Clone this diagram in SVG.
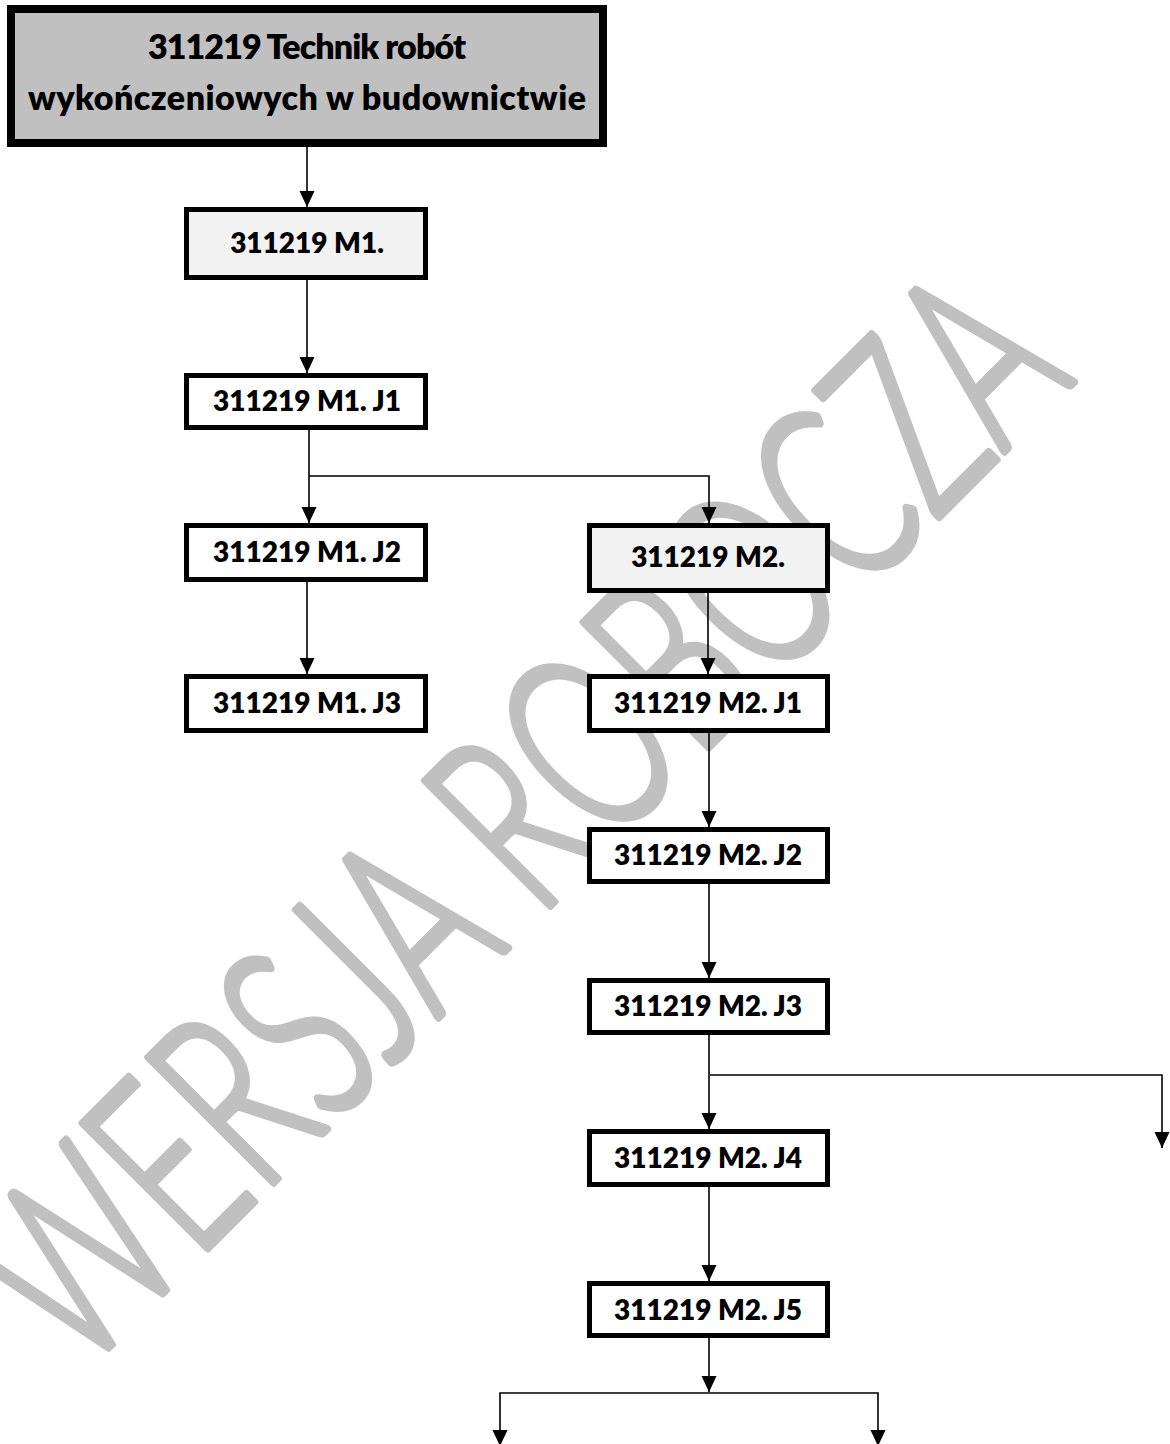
<svg xmlns="http://www.w3.org/2000/svg" width="1170" height="1444" viewBox="0 0 1170 1444">
<style>
.box{fill:#ffffff;stroke:#000000;stroke-width:5}
.mod{fill:#f2f2f2;stroke:#000000;stroke-width:5}
.lbl{font-family:Lato,"Open Sans","Liberation Sans",sans-serif;font-weight:800;font-size:28px;fill:#000000;text-anchor:middle}
.ttl{font-family:Lato,"Open Sans","Liberation Sans",sans-serif;font-weight:800;font-size:34px;fill:#000000;text-anchor:middle}
.conn{fill:none;stroke:#000000;stroke-width:1.6}
.wm{font-family:Lato,"Noto Sans","Open Sans",sans-serif;font-weight:300;font-size:250px;fill:#c0c0c0;stroke:#c0c0c0;stroke-width:8;stroke-linejoin:round;text-anchor:middle}
</style>
<defs>
<marker id="ah" markerUnits="userSpaceOnUse" markerWidth="16" markerHeight="16" refX="16" refY="7.5" orient="auto">
<path d="M0,0 L16,7.5 L0,15 z" fill="#000000"/>
</marker>
</defs>
<rect width="1170" height="1444" fill="#ffffff"/>
<g id="watermark">
<text class="wm" transform="translate(578,878) rotate(-45)" x="0" y="0" textLength="1410" lengthAdjust="spacingAndGlyphs">WERSJA ROBOCZA</text>
</g>
<g id="connectors">
<line class="conn" x1="307" y1="147" x2="307" y2="207" marker-end="url(#ah)"/>
<line class="conn" x1="307" y1="280" x2="307" y2="373" marker-end="url(#ah)"/>
<line class="conn" x1="309" y1="430" x2="309" y2="523" marker-end="url(#ah)"/>
<polyline class="conn" points="309,476 709,476 709,523" marker-end="url(#ah)"/>
<line class="conn" x1="307" y1="582" x2="307" y2="674" marker-end="url(#ah)"/>
<line class="conn" x1="708" y1="593" x2="708" y2="674" marker-end="url(#ah)"/>
<line class="conn" x1="709" y1="733" x2="709" y2="827" marker-end="url(#ah)"/>
<line class="conn" x1="709" y1="884" x2="709" y2="978" marker-end="url(#ah)"/>
<line class="conn" x1="709" y1="1035" x2="709" y2="1129" marker-end="url(#ah)"/>
<polyline class="conn" points="710,1075 1162,1075 1162,1148" marker-end="url(#ah)"/>
<line class="conn" x1="709" y1="1187" x2="709" y2="1281" marker-end="url(#ah)"/>
<line class="conn" x1="709" y1="1338" x2="709" y2="1392" marker-end="url(#ah)"/>
<polyline class="conn" points="500,1444 500,1393 878,1393 878,1444"/>
<path d="M492.5,1430 L507.5,1430 L500,1446 z" fill="#000000"/>
<path d="M870.5,1430 L885.5,1430 L878,1446 z" fill="#000000"/>
</g>
<g id="n0">
<rect x="11" y="9" width="592" height="134" fill="#c0c0c0" stroke="#000000" stroke-width="8"/>
<text class="ttl" x="307" y="59" textLength="318" lengthAdjust="spacing">311219 Technik robót</text>
<text class="ttl" x="307" y="110" textLength="558" lengthAdjust="spacing">wykończeniowych w budownictwie</text>
</g>
<g id="m1">
<rect class="mod" x="186.5" y="209.5" width="239" height="68"/>
<text class="lbl" x="307" y="253">311219 M1.</text>
</g>
<g id="m1j1">
<rect class="box" x="186.5" y="375.5" width="239" height="52"/>
<text class="lbl" x="307" y="411">311219 M1. J1</text>
</g>
<g id="m1j2">
<rect class="box" x="186.5" y="525.5" width="239" height="54"/>
<text class="lbl" x="307" y="562">311219 M1. J2</text>
</g>
<g id="m1j3">
<rect class="box" x="186.5" y="676.5" width="239" height="54"/>
<text class="lbl" x="307" y="713">311219 M1. J3</text>
</g>
<g id="m2">
<rect class="mod" x="589.5" y="525.5" width="238" height="65"/>
<text class="lbl" x="708" y="567">311219 M2.</text>
</g>
<g id="m2j1">
<rect class="box" x="589.5" y="676.5" width="238" height="54"/>
<text class="lbl" x="708" y="713">311219 M2. J1</text>
</g>
<g id="m2j2">
<rect class="box" x="589.5" y="829.5" width="238" height="52"/>
<text class="lbl" x="708" y="865">311219 M2. J2</text>
</g>
<g id="m2j3">
<rect class="box" x="589.5" y="980.5" width="238" height="52"/>
<text class="lbl" x="708" y="1016">311219 M2. J3</text>
</g>
<g id="m2j4">
<rect class="box" x="589.5" y="1131.5" width="238" height="53"/>
<text class="lbl" x="708" y="1168">311219 M2. J4</text>
</g>
<g id="m2j5">
<rect class="box" x="589.5" y="1283.5" width="238" height="52"/>
<text class="lbl" x="708" y="1320">311219 M2. J5</text>
</g>
</svg>
